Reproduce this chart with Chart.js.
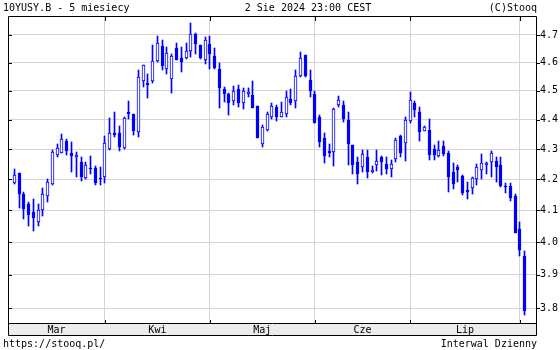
<!DOCTYPE html>
<html><head><meta charset="utf-8">
<script src="https://cdn.jsdelivr.net/npm/chart.js@4.4.1/dist/chart.umd.min.js"></script>
<style>html,body{margin:0;padding:0;background:#fff}#wrap{width:560px;height:350px;position:relative}</style>
</head><body><div id="wrap"><canvas id="c" width="560" height="350"></canvas></div>
<script>
// ---- data (daily candles, 10YUSY.B) ----
const openV  = [4.187,4.220,4.153,4.120,4.095,4.064,4.100,4.147,4.184,4.281,4.289,4.328,4.289,4.274,4.257,4.205,4.237,4.238,4.205,
  4.209,4.300,4.354,4.354,4.304,4.427,4.420,4.357,4.536,4.527,4.536,4.605,4.661,4.578,4.542,4.653,4.617,4.617,4.641,4.702,4.665,4.608,
  4.668,4.625,4.578,4.507,4.490,4.463,4.507,4.457,4.489,4.486,4.446,4.316,4.366,4.408,4.444,4.409,4.420,4.472,4.463,4.554,4.628,4.537,
  4.490,4.409,4.339,4.294,4.292,4.449,4.452,4.400,4.314,4.258,4.241,4.273,4.223,4.246,4.273,4.252,4.236,4.267,4.345,4.320,
  4.397,4.457,4.427,4.363,4.366,4.300,4.276,4.310,4.287,4.223,4.241,4.211,4.166,4.171,4.200,4.230,4.246,4.257,4.262,4.248,4.177,4.178,4.145,
  4.042,3.958];
const highV  = [4.233,4.221,4.160,4.128,4.136,4.119,4.171,4.203,4.299,4.318,4.353,4.334,4.324,4.292,4.273,4.259,4.276,4.243,4.240,
  4.343,4.406,4.427,4.379,4.410,4.466,4.420,4.574,4.593,4.560,4.665,4.697,4.680,4.656,4.631,4.671,4.656,4.671,4.743,4.706,4.665,4.694,
  4.697,4.653,4.599,4.515,4.492,4.518,4.521,4.510,4.510,4.536,4.446,4.383,4.427,4.457,4.452,4.461,4.500,4.507,4.575,4.638,4.628,4.575,
  4.500,4.415,4.354,4.317,4.440,4.483,4.463,4.427,4.314,4.273,4.297,4.297,4.243,4.297,4.279,4.273,4.263,4.337,4.348,4.408,
  4.497,4.463,4.443,4.378,4.404,4.314,4.328,4.328,4.294,4.254,4.248,4.215,4.193,4.208,4.252,4.283,4.259,4.294,4.275,4.273,4.190,4.189,4.153,
  4.064,3.971];
const lowV   = [4.185,4.107,4.074,4.050,4.035,4.050,4.082,4.128,4.183,4.273,4.286,4.281,4.225,4.208,4.196,4.201,4.218,4.182,4.182,
  4.189,4.297,4.342,4.293,4.300,4.404,4.348,4.340,4.512,4.476,4.527,4.603,4.573,4.560,4.492,4.608,4.566,4.613,4.619,4.631,4.613,4.596,
  4.578,4.578,4.442,4.461,4.415,4.452,4.443,4.436,4.480,4.440,4.337,4.308,4.360,4.402,4.394,4.409,4.409,4.452,4.442,4.549,4.549,4.480,
  4.389,4.308,4.255,4.273,4.243,4.443,4.391,4.246,4.218,4.185,4.225,4.205,4.220,4.228,4.215,4.218,4.209,4.256,4.273,4.261,
  4.389,4.408,4.329,4.360,4.263,4.263,4.273,4.276,4.160,4.168,4.193,4.150,4.137,4.153,4.182,4.200,4.218,4.208,4.191,4.175,4.155,4.130,4.028,
  3.958,3.778];
const closeV = [4.214,4.152,4.103,4.085,4.075,4.100,4.153,4.191,4.290,4.305,4.336,4.294,4.276,4.282,4.209,4.248,4.233,4.189,4.203,
  4.322,4.354,4.348,4.308,4.406,4.418,4.363,4.548,4.593,4.519,4.607,4.671,4.587,4.634,4.625,4.608,4.601,4.641,4.702,4.667,4.617,4.680,
  4.631,4.581,4.510,4.489,4.457,4.500,4.457,4.498,4.495,4.440,4.337,4.375,4.420,4.446,4.411,4.427,4.478,4.457,4.554,4.617,4.554,4.500,
  4.389,4.325,4.276,4.286,4.438,4.468,4.404,4.316,4.248,4.218,4.283,4.225,4.230,4.262,4.259,4.236,4.252,4.331,4.286,4.400,
  4.468,4.434,4.357,4.374,4.281,4.281,4.297,4.283,4.208,4.184,4.230,4.155,4.159,4.205,4.241,4.254,4.254,4.288,4.241,4.178,4.175,4.140,4.030,
  3.976,3.792];
const monthNames  = ['Mar','Kwi','Maj','Cze','Lip'];
const monthStarts = [19,41,63,83,106];   // candle index of first session of Apr, May, Jun, Jul, Aug
const yTicks = [3.8,3.9,4.0,4.1,4.2,4.3,4.4,4.5,4.6,4.7];
const titleLeft = '10YUSY.B - 5 miesiecy';
const titleCenter = '2 Sie 2024 23:00 CEST';
const titleRight = '(C)Stooq';
const footLeft = 'https://stooq.pl/';
const footRight = 'Interwal Dzienny';

// ---- build ----
const BLUE = '#0000ff';
const FONT = '"DejaVu Sans Mono", "Liberation Mono", monospace';
const xMin = -1.32, xMax = 109.37;
const bodies = openV.map((o,i)=>({x:i, y:[Math.min(o,closeV[i]), Math.max(o,closeV[i])]}));
const wicks  = openV.map((o,i)=>({x:i, y:[lowV[i], highV[i]]}));
const bodyFill = openV.map((o,i)=> closeV[i] >= o ? '#ffffff' : BLUE);
const labelPos = monthNames.map((m,k)=> ((k===0 ? xMin : monthStarts[k-1]) + monthStarts[k]) / 2);

const framePlugin = {
  id: 'frame',
  beforeDraw(chart){
    const ctx = chart.ctx, a = chart.chartArea;
    ctx.save();
    ctx.fillStyle = '#fff'; ctx.fillRect(0,0,chart.width,chart.height);
    ctx.fillStyle = '#ececec'; ctx.fillRect(a.left, a.bottom, a.right-a.left, 12);
    ctx.restore();
  },
  beforeDatasetsDraw(chart){
    // snap candle elements to whole pixels for crisp rendering
    chart.getSortedVisibleDatasetMetas().forEach(meta => {
      meta.data.forEach(el => {
        el.x = Math.floor(el.x) + 0.5;
        el.y = Math.round(el.y);
        el.base = Math.round(el.base);
      });
    });
  },
  afterDraw(chart){
    const ctx = chart.ctx, a = chart.chartArea;
    const xs = chart.scales.x, ys = chart.scales.y;
    ctx.save();
    ctx.strokeStyle = '#000'; ctx.lineWidth = 1;
    ctx.beginPath();
    const L = a.left + 0.5, R = a.right + 0.5, T = a.top + 0.5, B = a.bottom + 0.5, SB = a.bottom + 12.5;
    ctx.moveTo(L, T); ctx.lineTo(R, T);
    ctx.moveTo(L, T); ctx.lineTo(L, SB);
    ctx.moveTo(R, T); ctx.lineTo(R, SB);
    ctx.moveTo(L, B); ctx.lineTo(R, B);
    ctx.moveTo(L, SB); ctx.lineTo(R, SB);
    monthStarts.forEach(m => {
      const px = Math.round(xs.getPixelForValue(m)) + 0.5;
      ctx.moveTo(px, a.top); ctx.lineTo(px, a.top + 5);
      ctx.moveTo(px, a.bottom); ctx.lineTo(px, a.bottom - 3);
    });
    yTicks.forEach(v => {
      const py = Math.round(ys.getPixelForValue(v)) + 0.5;
      ctx.moveTo(a.left, py); ctx.lineTo(a.left + 4, py);
      ctx.moveTo(a.right, py); ctx.lineTo(a.right + 4, py);
    });
    ctx.stroke();
    ctx.fillStyle = '#000';
    ctx.font = '10px ' + FONT;
    ctx.textBaseline = 'middle';
    ctx.textAlign = 'left';  ctx.fillText(titleLeft, 3, 8);
    ctx.textAlign = 'center'; ctx.fillText(titleCenter, 308, 8);
    ctx.textAlign = 'right'; ctx.fillText(titleRight, 537, 8);
    ctx.textAlign = 'left';  ctx.fillText(footLeft, 3, 344);
    ctx.textAlign = 'right'; ctx.fillText(footRight, 537, 344);
    ctx.restore();
  }
};

new Chart(document.getElementById('c'), {
  type: 'bar',
  data: {
    datasets: [
      { label: 'body', data: bodies, backgroundColor: bodyFill, borderColor: BLUE, borderWidth: 1,
        borderSkipped: false, barThickness: 3, grouped: false, order: 0, minBarLength: 1 },
      { label: 'wick', data: wicks, backgroundColor: BLUE, borderWidth: 0,
        barThickness: 1, grouped: false, order: 1 }
    ]
  },
  options: {
    responsive: false, devicePixelRatio: 1, animation: false,
    layout: { padding: { left: 8, top: 16, right: 0, bottom: 15 } },
    plugins: { legend: { display: false }, tooltip: { enabled: false } },
    scales: {
      x: {
        type: 'linear', min: xMin, max: xMax, offset: false, weight: 0,
        afterBuildTicks: s => { s.ticks = monthStarts.map(v => ({ value: v })); },
        afterFit: s => { s.height = 0; },
        grid: { color: '#d4d4d4', drawTicks: false, offset: false },
        border: { display: false },
        ticks: { display: false }
      },
      x2: {
        type: 'linear', position: 'bottom', min: xMin, max: xMax, offset: false, weight: 1,
        afterBuildTicks: s => { s.ticks = labelPos.map(v => ({ value: v })); },
        afterFit: s => { s.height = 12; },
        grid: { display: false, drawTicks: false },
        border: { display: false },
        ticks: { autoSkip: false, maxRotation: 0, padding: 1, color: '#000',
                 font: { family: FONT, size: 10 },
                 callback: (v, idx) => monthNames[idx] }
      },
      y: {
        type: 'logarithmic', position: 'right', min: 3.756, max: 4.770,
        afterBuildTicks: s => { s.ticks = yTicks.map(v => ({ value: v })); },
        afterFit: s => { s.width = 24; },
        grid: { color: '#d4d4d4', drawTicks: false },
        border: { display: false },
        ticks: { autoSkip: false, padding: 4, color: '#000', font: { family: FONT, size: 10 },
                 callback: v => Number(v).toFixed(1) }
      }
    }
  },
  plugins: [framePlugin]
});
</script>
</body></html>
